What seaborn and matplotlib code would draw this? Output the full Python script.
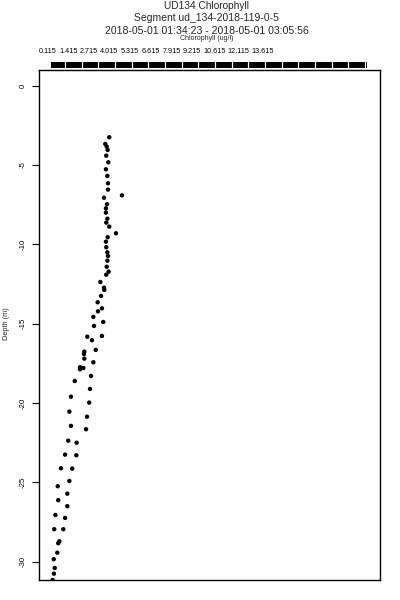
import matplotlib
matplotlib.use("Agg")
import matplotlib.pyplot as plt
import seaborn as sns
import pandas as pd
from matplotlib.patches import Rectangle
from matplotlib.lines import Line2D

# ---- data ----
chl = [4.00, 3.75, 3.84, 3.90, 3.81, 3.94, 3.79, 3.88, 3.92, 3.92,
       4.80, 3.67, 3.86, 3.79, 3.79, 3.88, 3.81, 4.00, 4.42, 3.90,
       3.79, 3.81, 3.88, 3.92, 3.88, 3.84, 3.96, 3.81, 3.44, 3.67,
       3.69, 3.48, 3.27, 3.54, 3.29, 3.00, 3.62, 3.04, 3.54, 2.62,
       2.91, 3.15, 2.43, 2.41, 2.43, 3.00, 2.16, 2.37, 2.16, 2.85,
       1.83, 2.79, 1.59, 2.74, 1.49, 2.60, 1.59, 2.54, 1.42, 1.95,
       1.22, 1.93, 0.96, 1.67, 1.49, 0.76, 1.36, 0.79, 1.36, 0.61,
       1.22, 0.54, 1.11, 0.86, 0.79, 0.73, 0.51, 0.57, 0.52, 0.44]
depth = [-3.25, -3.67, -3.84, -4.05, -4.41, -4.83, -5.27, -5.69, -6.15, -6.55,
         -6.91, -7.06, -7.47, -7.73, -8.00, -8.38, -8.63, -8.88, -9.30, -9.55,
         -9.83, -10.18, -10.50, -10.73, -11.03, -11.41, -11.72, -11.91, -12.37, -12.73,
         -12.87, -13.25, -13.65, -14.03, -14.22, -14.57, -14.89, -15.14, -15.77, -15.82,
         -16.04, -16.65, -16.76, -16.91, -17.20, -17.43, -17.74, -17.79, -17.87, -18.29,
         -18.61, -19.11, -19.60, -19.97, -20.54, -20.86, -21.44, -21.65, -22.37, -22.50,
         -23.25, -23.29, -24.11, -24.13, -24.91, -25.24, -25.71, -26.12, -26.50, -27.05,
         -27.24, -27.95, -27.95, -28.71, -28.83, -29.43, -29.84, -30.39, -30.75, -31.15]
top_labels = ["0.115", "1.415", "2.715", "4.015", "5.315", "6.615",
              "7.915", "9.215", "10.615", "12.115", "13.615"]
top_label_values = [0.115, 1.415, 2.715, 4.015, 5.315, 6.615,
                    7.915, 9.215, 10.615, 12.115, 13.615]
depth_ticks = [0, -5, -10, -15, -20, -25, -30]

title_lines = ["UD134 Chlorophyll",
               "Segment ud_134-2018-119-0-5",
               "2018-05-01 01:34:23 - 2018-05-01 03:05:56"]
x_label = "Chlorophyll (ug/l)"
y_label = "Depth (m)"

df = pd.DataFrame({"chl": chl, "depth": depth})

sns.set_style("white")
plt.rcParams["font.family"] = ["Liberation Sans", "DejaVu Sans"]

fig = plt.figure(figsize=(4, 6), dpi=100)
W, H = 400, 600
ax_l, ax_r, ax_t, ax_b = 38.5, 380, 69.5, 580
ax = fig.add_axes([ax_l / W, 1 - ax_b / H, (ax_r - ax_l) / W, (ax_b - ax_t) / H])

sns.scatterplot(data=df, x="chl", y="depth", color="black", s=10,
                edgecolor="none", linewidth=0, legend=False, ax=ax)

ax.set_xlim(-0.451, 21.03)
ax.set_ylim(-31.15, 1.02)

for s in ax.spines.values():
    s.set_visible(True)
    s.set_color("black")
    s.set_linewidth(1.0)

ax.set_xticks([])
ax.set_yticks(depth_ticks)
ax.set_yticklabels([str(t) for t in depth_ticks])
ax.tick_params(axis="y", left=True, direction="out", length=4.8, width=0.8,
               pad=3.4, labelsize=5.6, labelrotation=90, colors="black")
for lab in ax.get_yticklabels():
    lab.set_va("center")
ax.set_xlabel("")
ax.set_ylabel("")

# top bar with white separators (axis decoration)
def fx(px):
    return (px - ax_l) / (ax_r - ax_l)

def fy(py):
    return (ax_b - py) / (ax_b - ax_t)

ax.add_patch(Rectangle((fx(51), fy(67.5)), fx(367) - fx(51), fy(62) - fy(67.5),
                       transform=ax.transAxes, facecolor="black",
                       edgecolor="none", clip_on=False))
for k in range(19):
    px = 65 + 16.67 * k
    ax.add_line(Line2D([fx(px), fx(px)], [fy(67.5), fy(62)], transform=ax.transAxes,
                       color="white", linewidth=0.9, clip_on=False))

# top labels
for v, t in zip(top_label_values, top_labels):
    ax.text(v, fy(51.7), t, transform=ax.get_xaxis_transform(), ha="center",
            va="center", fontsize=5.2, color="black", clip_on=False)

# titles
cx = 206.5 / W
fig.text(cx, 1 - 6.2 / H, title_lines[0], ha="center", va="center", fontsize=7.3)
fig.text(cx, 1 - 17.8 / H, title_lines[1], ha="center", va="center", fontsize=7.5)
fig.text(cx, 1 - 30.5 / H, title_lines[2], ha="center", va="center", fontsize=7.6)
fig.text(cx, 1 - 38.7 / H, x_label, ha="center", va="center", fontsize=5)
fig.text(6.2 / W, 1 - 324 / H, y_label, ha="center", va="center", fontsize=5.3,
         rotation=90)

fig.savefig("out.png", dpi=100, facecolor="white")
